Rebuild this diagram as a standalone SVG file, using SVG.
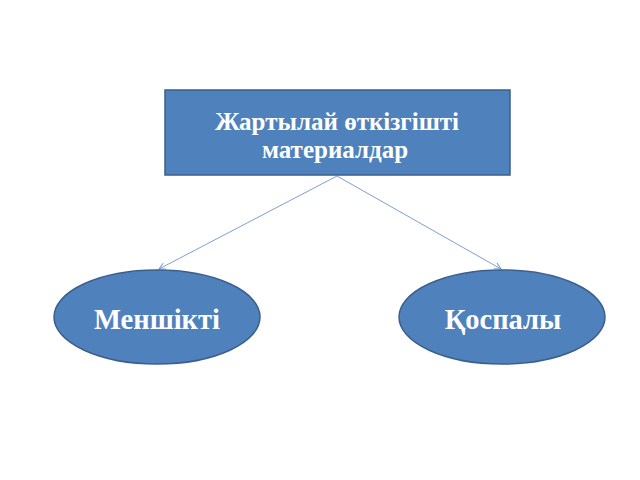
<svg xmlns="http://www.w3.org/2000/svg" width="640" height="480" viewBox="0 0 640 480">
<style>
.node{fill:#4F81BD;stroke:#3A5F8B;stroke-width:1.5}
.t{fill:#FFFFFF;font-family:"Liberation Serif",serif;font-weight:bold;text-anchor:middle}
.c{fill:none;stroke:#6D95C8;stroke-width:0.9}
</style>
<defs>
<marker id="arr" viewBox="0 0 10 10" refX="9" refY="5" markerWidth="8" markerHeight="8" markerUnits="userSpaceOnUse" orient="auto">
<path d="M1,1 L9,5 L1,9" fill="none" stroke="#6D95C8" stroke-width="1.2"/>
</marker>
</defs>
<rect width="640" height="480" fill="#FFFFFF"/>
<g id="connectors">
<line class="c" x1="337" y1="176" x2="159" y2="269" marker-end="url(#arr)"/>
<line class="c" x1="337" y1="176" x2="501" y2="269" marker-end="url(#arr)"/>
</g>
<g id="root">
<rect class="node" x="165" y="90" width="345" height="85"/>
<text class="t" x="337" y="130" font-size="25">Жартылай өткізгішті</text>
<text class="t" x="335" y="158" font-size="25">материалдар</text>
</g>
<g id="menshikti">
<ellipse class="node" cx="157" cy="317" rx="103" ry="47"/>
<text class="t" x="157" y="329" font-size="28.5">Меншікті</text>
</g>
<g id="qospaly">
<ellipse class="node" cx="502" cy="317" rx="103" ry="47"/>
<text class="t" x="503" y="329" font-size="28.5">Қоспалы</text>
</g>
</svg>
